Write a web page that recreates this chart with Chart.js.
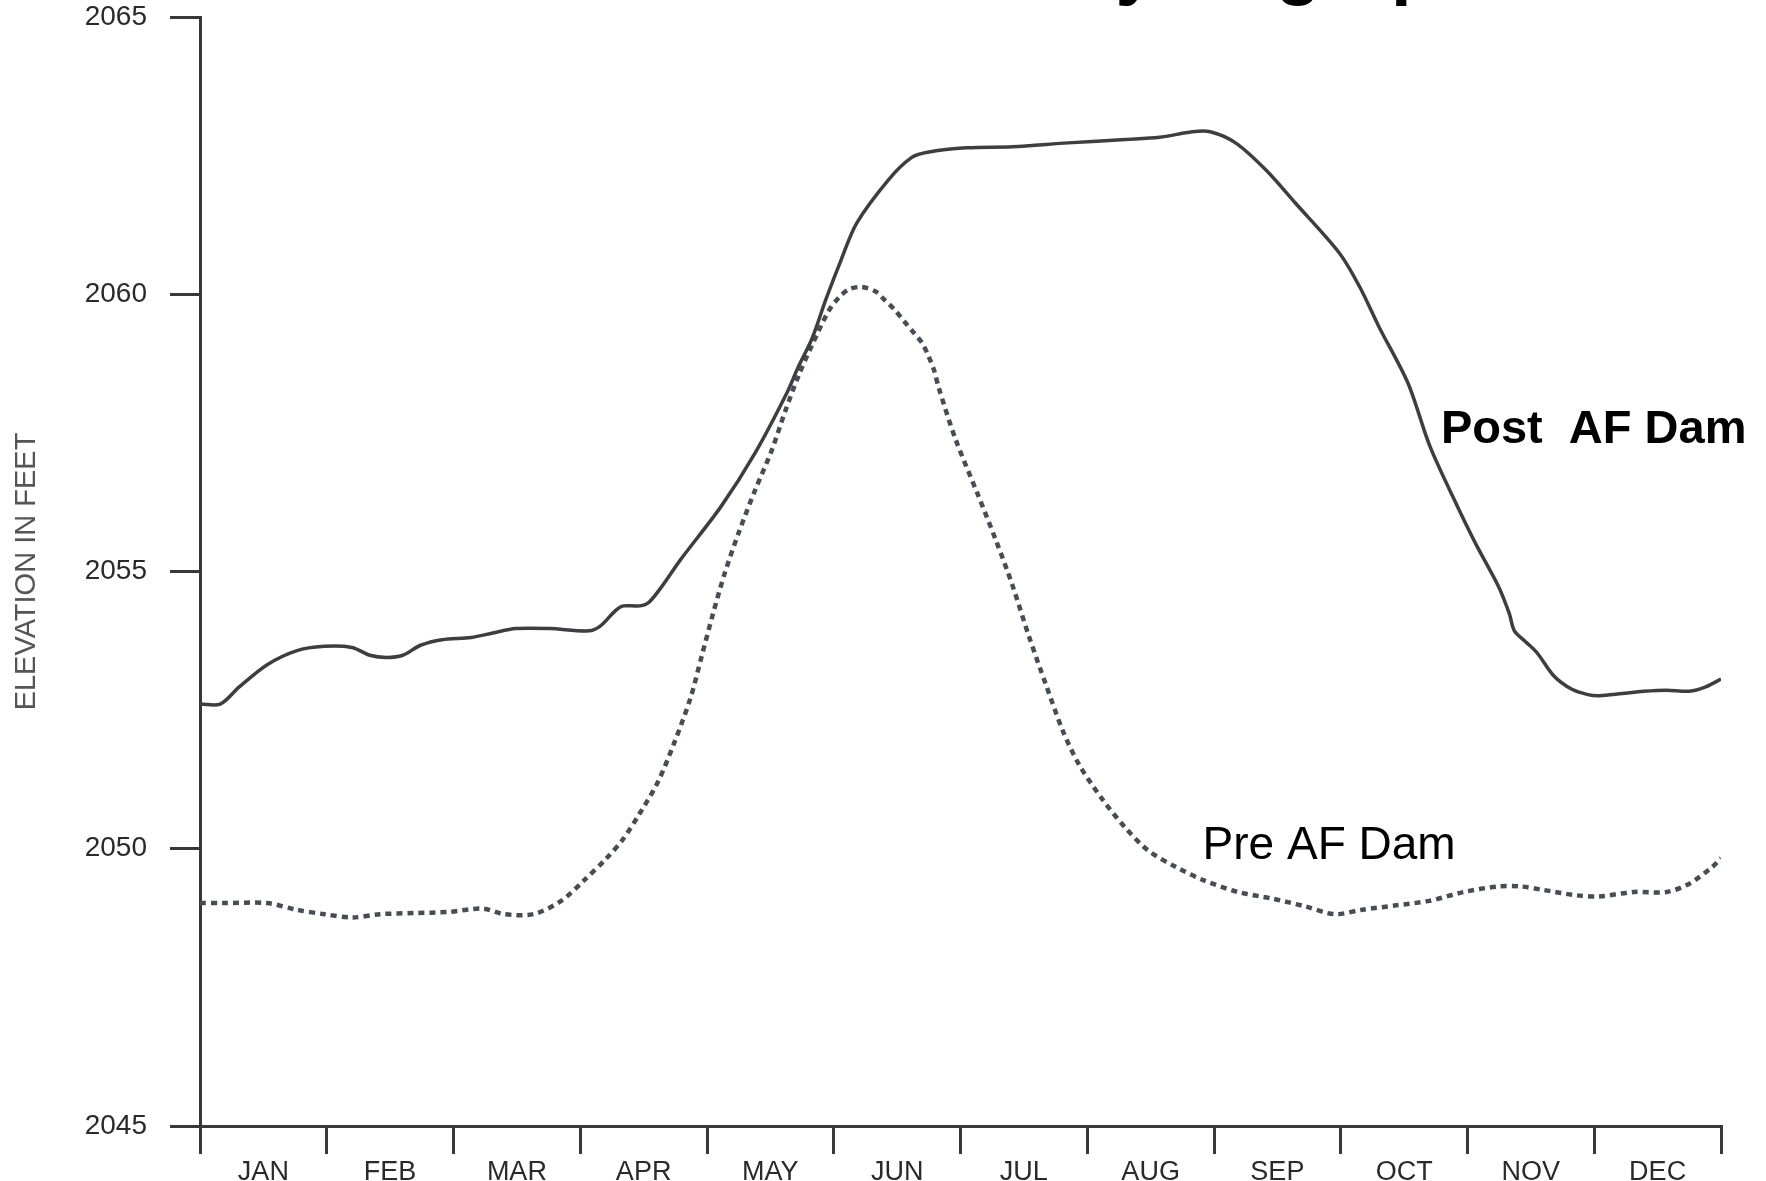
<!DOCTYPE html>
<html>
<head>
<meta charset="utf-8">
<title>Hydrograph</title>
<script src="https://cdn.jsdelivr.net/npm/chart.js@4.4.1/dist/chart.umd.min.js"></script>
<style>
  body { margin: 0; background: #ffffff; }
  #caixa { width: 1766px; height: 1181px; position: relative; }
</style>
</head>
<body>
<div id="caixa"><canvas id="grafico"></canvas></div>
<script>
const meses = ['JAN', 'FEB', 'MAR', 'APR', 'MAY', 'JUN', 'JUL', 'AUG', 'SEP', 'OCT', 'NOV', 'DEC']
const cotasEixo = [2045, 2050, 2055, 2060, 2065]

// Post AF Dam (linha cheia) - posicao em meses desde 1 jan, cota em pes
const mesPos = [0, 0.16, 0.31, 0.53, 0.76, 0.98, 1.20, 1.34, 1.47, 1.60, 1.74, 1.91, 2.14, 2.31, 2.49, 2.76,
    3.07, 3.16, 3.28, 3.34, 3.47, 3.54, 3.65, 3.79, 4.11, 4.38, 4.63, 4.72, 4.83, 4.94, 5.06, 5.18, 5.43,
    5.61, 5.74, 6.05, 6.41, 6.85, 7.30, 7.57, 7.83, 7.97, 8.17, 8.41, 8.64, 8.99, 9.15, 9.30, 9.53, 9.70,
    9.88, 10.06, 10.24, 10.33, 10.37, 10.46, 10.55, 10.68, 10.82, 10.95, 11.04, 11.22, 11.39, 11.57,
    11.75, 11.88, 12.0]
const cotaPos = [2052.61, 2052.61, 2052.92, 2053.32, 2053.57, 2053.65, 2053.63, 2053.49, 2053.45, 2053.49,
    2053.67, 2053.77, 2053.81, 2053.89, 2053.97, 2053.97, 2053.93, 2054.02, 2054.30, 2054.38, 2054.38,
    2054.44, 2054.75, 2055.21, 2056.17, 2057.14, 2058.22, 2058.69, 2059.21, 2059.92, 2060.63, 2061.28,
    2062.06, 2062.46, 2062.56, 2062.64, 2062.66, 2062.73, 2062.79, 2062.83, 2062.93, 2062.93, 2062.73,
    2062.24, 2061.65, 2060.74, 2060.13, 2059.42, 2058.40, 2057.28, 2056.37, 2055.52, 2054.75,
    2054.24, 2053.93, 2053.73, 2053.53, 2053.12, 2052.88, 2052.78, 2052.76, 2052.80, 2052.84, 2052.86,
    2052.84, 2052.92, 2053.06]

// Pre AF Dam (linha pontilhada)
const mesPre = [0, 0.18, 0.53, 0.76, 0.98, 1.20, 1.42, 1.69, 1.96, 2.23, 2.40, 2.63, 2.85, 3.03, 3.20,
    3.34, 3.47, 3.61, 3.74, 3.87, 3.96, 4.05, 4.14, 4.25, 4.38, 4.51, 4.62, 4.72, 4.83, 4.96, 5.04, 5.12,
    5.22, 5.33, 5.40, 5.48, 5.56, 5.63, 5.70, 5.75, 5.79, 5.83, 5.96, 6.14, 6.28, 6.41, 6.54, 6.68, 6.81,
    6.94, 7.12, 7.30, 7.48, 7.70, 7.92, 8.19, 8.46, 8.72, 8.95, 9.17, 9.44, 9.70, 9.97, 10.24, 10.42,
    10.59, 10.86, 11.04, 11.31, 11.57, 11.75, 11.93, 12.0]
const cotaPre = [2049.02, 2049.02, 2049.02, 2048.90, 2048.82, 2048.76, 2048.82, 2048.84, 2048.86, 2048.92,
    2048.82, 2048.82, 2049.06, 2049.43, 2049.81, 2050.18, 2050.64, 2051.19, 2051.90, 2052.72, 2053.49,
    2054.26, 2054.97, 2055.70, 2056.47, 2057.18, 2057.91, 2058.52, 2059.09, 2059.70, 2059.94, 2060.09,
    2060.13, 2060.05, 2059.90, 2059.72, 2059.50, 2059.31, 2059.11, 2058.87, 2058.64, 2058.30, 2057.39,
    2056.37, 2055.56, 2054.75, 2053.83, 2052.92, 2052.11, 2051.50, 2050.89, 2050.38, 2049.97, 2049.67,
    2049.43, 2049.22, 2049.10, 2048.96, 2048.82, 2048.90, 2048.98, 2049.06, 2049.22, 2049.32, 2049.32,
    2049.26, 2049.16, 2049.14, 2049.22, 2049.22, 2049.37, 2049.67, 2049.83]

const corEixo = '#383838'
const fonte = '"Liberation Sans", Arial, sans-serif'

function juntar(xs, ys){
    return xs.map((x, i) => ({x: x, y: ys[i]}))
}

// rotulos das curvas e o titulo cortado no topo
const rotulos = {
    id: 'rotulos',
    afterDatasetsDraw(chart){
        const ctx = chart.ctx
        const sx = chart.scales.x
        const sy = chart.scales.y
        ctx.save()
        ctx.fillStyle = '#000'
        ctx.textBaseline = 'middle'
        ctx.textAlign = 'left'
        ctx.font = 'bold 47px ' + fonte
        ctx.fillText('Post  AF Dam', sx.getPixelForValue(9.79), sy.getPixelForValue(2057.55))
        ctx.font = '46px ' + fonte
        ctx.fillText('Pre AF Dam', sx.getPixelForValue(7.91), sy.getPixelForValue(2050.04))
        // titulo do slide, quase todo fora da imagem
        ctx.textBaseline = 'alphabetic'
        ctx.font = 'bold 74px ' + fonte
        ctx.fillText('Hydrograph', 1062, -9)
        ctx.restore()
    }
}

const canvas = document.getElementById('grafico')
new Chart(canvas, {
    type: 'line',
    data: {
        datasets: [
            {
                label: 'Post AF Dam',
                data: juntar(mesPos, cotaPos),
                borderColor: '#3e3e40',
                borderWidth: 3.5,
                pointRadius: 0,
                tension: 0.3,
                xAxisID: 'x',
                yAxisID: 'y'
            },
            {
                label: 'Pre AF Dam',
                data: juntar(mesPre, cotaPre),
                borderColor: '#484c55',
                borderWidth: 4.5,
                borderDash: [6, 5],
                pointRadius: 0,
                tension: 0.3,
                xAxisID: 'x',
                yAxisID: 'y'
            }
        ]
    },
    options: {
        responsive: true,
        maintainAspectRatio: false,
        animation: false,
        layout: { padding: { top: 17, right: 45, left: 0, bottom: 0 } },
        plugins: {
            legend: { display: false },
            tooltip: { enabled: false }
        },
        scales: {
            x: {
                type: 'linear',
                min: 0,
                max: 12,
                display: false
            },
            meses: {
                type: 'category',
                labels: meses,
                position: 'bottom',
                offset: true,
                grid: {
                    offset: true,
                    drawOnChartArea: false,
                    tickLength: 28,
                    color: corEixo,
                    lineWidth: 3
                },
                border: { color: corEixo, width: 3 },
                ticks: {
                    color: '#2a2a2a',
                    font: { family: fonte, size: 27 },
                    padding: 2,
                    maxRotation: 0,
                    autoSkip: false
                },
                afterFit(escala){ escala.height = 55 }
            },
            y: {
                type: 'linear',
                min: 2045,
                max: 2065,
                afterBuildTicks(escala){
                    escala.ticks = cotasEixo.map(v => ({value: v}))
                },
                grid: {
                    drawOnChartArea: false,
                    tickLength: 30,
                    color: corEixo,
                    lineWidth: 3
                },
                border: { color: corEixo, width: 3 },
                ticks: {
                    color: '#2a2a2a',
                    font: { family: fonte, size: 28 },
                    padding: 23,
                    callback: v => String(v)
                },
                title: {
                    display: true,
                    text: 'ELEVATION IN FEET',
                    color: '#555555',
                    font: { family: fonte, size: 29 },
                    padding: { top: 10, bottom: 0 }
                },
                afterFit(escala){
                    escala.width = 200
                    escala.paddingTop = 0
                    escala.paddingBottom = 0
                }
            }
        }
    },
    plugins: [rotulos]
})
</script>
</body>
</html>
